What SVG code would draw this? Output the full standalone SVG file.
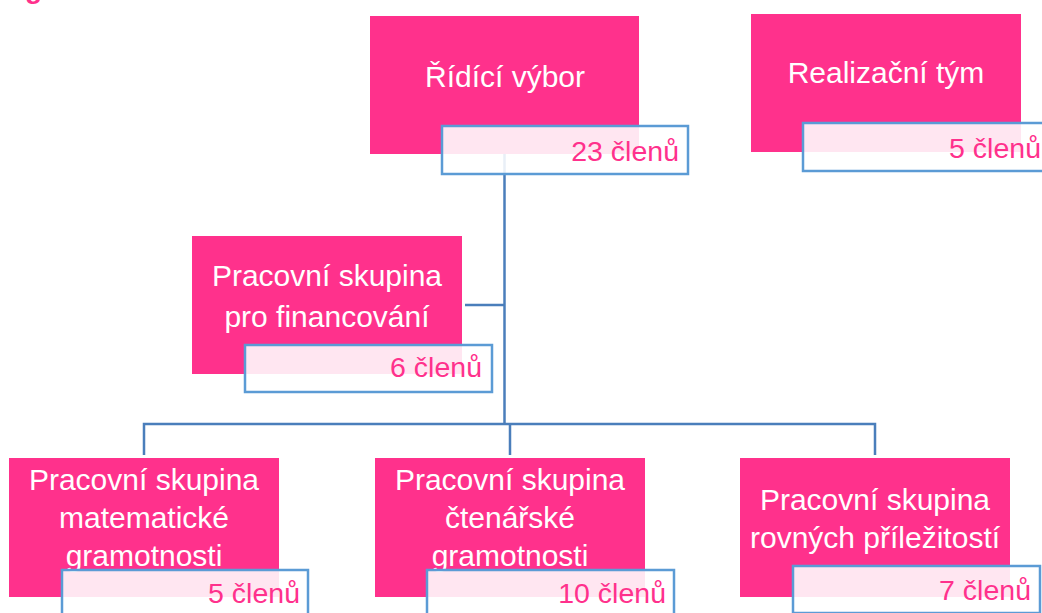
<svg xmlns="http://www.w3.org/2000/svg" width="1042" height="613" viewBox="0 0 1042 613">
<style>
.box{fill:#ff318c}
.lab{fill:#ffffff;fill-opacity:0.88;stroke:#5b9bd5;stroke-width:2.5}
.t{font-family:"Liberation Sans",Arial,sans-serif;font-size:30px;fill:#ffffff;text-anchor:middle}
.n{font-family:"Liberation Sans",Arial,sans-serif;font-size:28.5px;fill:#ff318c;text-anchor:end}
.c{fill:none;stroke:#4a7ebb;stroke-width:2.5}
</style>
<rect width="1042" height="613" fill="#ffffff"/>
<text x="25" y="-2" font-family="'Liberation Sans',Arial,sans-serif" font-size="28" font-weight="bold" fill="#ff318c">g</text>
<g id="connectors">
<path class="c" d="M504.5 154V424"/>
<path class="c" d="M465 305H504.5"/>
<path class="c" d="M144 455V424H875V455"/>
<path class="c" d="M510 424V455"/>
</g>
<g id="ridici-vybor">
<rect class="box" x="370" y="16" width="269" height="138"/>
<text class="t" x="505" y="87">Řídící výbor</text>
<rect class="lab" x="442" y="126" width="246" height="48"/>
<text class="n" x="679" y="161">23 členů</text>
</g>
<g id="realizacni-tym">
<rect class="box" x="751" y="14" width="270" height="138"/>
<text class="t" x="886" y="83">Realizační tým</text>
<rect class="lab" x="803" y="123" width="246" height="48"/>
<text class="n" x="1041" y="158">5 členů</text>
</g>
<g id="financovani">
<rect class="box" x="192" y="236" width="270" height="138"/>
<text class="t" x="327" y="286">Pracovní skupina</text>
<text class="t" x="327" y="327">pro financování</text>
<rect class="lab" x="245" y="345" width="247" height="47"/>
<text class="n" x="482" y="377">6 členů</text>
</g>
<g id="matematicke">
<rect class="box" x="9" y="458" width="270" height="139"/>
<text class="t" x="144" y="490">Pracovní skupina</text>
<text class="t" x="144" y="528">matematické</text>
<text class="t" x="144" y="566">gramotnosti</text>
<rect class="lab" x="62" y="570" width="246" height="47"/>
<text class="n" x="300" y="603">5 členů</text>
</g>
<g id="ctenarske">
<rect class="box" x="375" y="458" width="270" height="139"/>
<text class="t" x="510" y="490">Pracovní skupina</text>
<text class="t" x="510" y="528">čtenářské</text>
<text class="t" x="510" y="566">gramotnosti</text>
<rect class="lab" x="427" y="570" width="247" height="47"/>
<text class="n" x="666" y="603">10 členů</text>
</g>
<g id="rovnych">
<rect class="box" x="740" y="458" width="270" height="139"/>
<text class="t" x="875" y="510">Pracovní skupina</text>
<text class="t" x="875" y="548">rovných příležitostí</text>
<rect class="lab" x="793" y="566" width="247" height="47"/>
<text class="n" x="1031" y="600">7 členů</text>
</g>
</svg>
